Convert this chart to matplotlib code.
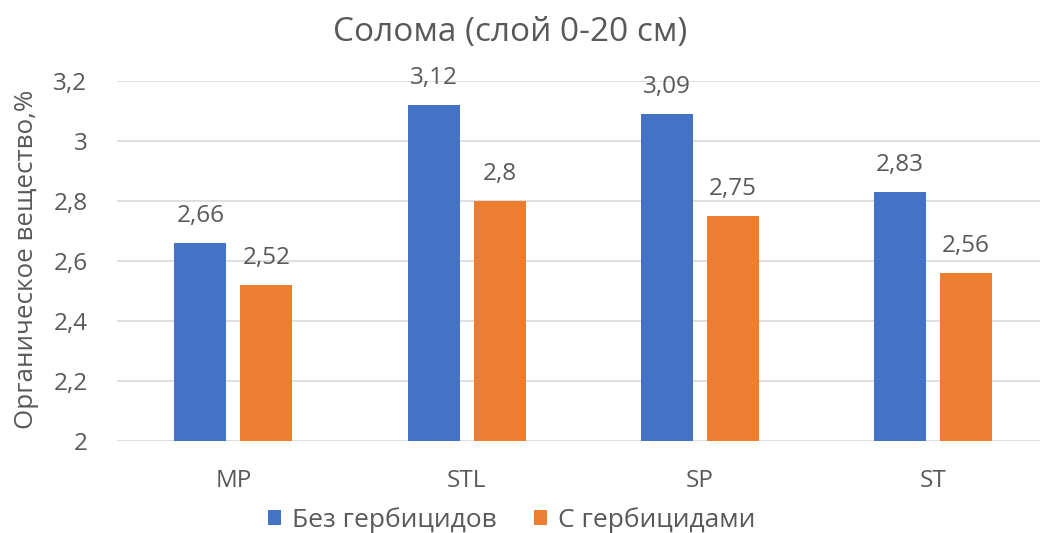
import matplotlib
matplotlib.use("Agg")
import matplotlib.pyplot as plt
import numpy as np

categories = ["MP", "STL", "SP", "ST"]
without_herbicides = [2.66, 3.12, 3.09, 2.83]
with_herbicides = [2.52, 2.80, 2.75, 2.56]
series_names = ["Без гербицидов", "С гербицидами"]
y_ticks = [2.0, 2.2, 2.4, 2.6, 2.8, 3.0, 3.2]

BLUE = "#4472C4"
ORANGE = "#ED7D31"
TEXT = "#595959"
GRID = "#D9D9D9"

plt.rcParams["font.family"] = ["Open Sans", "DejaVu Sans"]


def comma(v):
    return f"{v:g}".replace(".", ",")


fig = plt.figure(figsize=(10.4, 5.33), dpi=100)
ax = fig.add_axes([116.7 / 1040, 92 / 533, (1040 - 116.7) / 1040, 360 / 533])

x = np.arange(len(categories))
width = 0.223
offset = 0.1415
b1 = ax.bar(x - offset, without_herbicides, width, color=BLUE, label=series_names[0], zorder=3)
b2 = ax.bar(x + offset, with_herbicides, width, color=ORANGE, label=series_names[1], zorder=3)

for bars, vals in ((b1, without_herbicides), (b2, with_herbicides)):
    for rect, v in zip(bars, vals):
        ax.annotate(comma(v), (rect.get_x() + rect.get_width() / 2, v),
                    xytext=(0, 11), textcoords="offset points",
                    ha="center", va="bottom", fontsize=17.5, color=TEXT)

ax.set_ylim(2.0, 3.2)
ax.set_xlim(-0.5, 3 + (1040 - 933) / 233.3)
ax.set_yticks(y_ticks)
ax.set_yticklabels([comma(t) for t in y_ticks])
ax.set_xticks(x)
ax.set_xticklabels(categories)
ax.tick_params(axis="both", length=0, labelsize=17.5, colors=TEXT)
ax.tick_params(axis="x", pad=20)
ax.tick_params(axis="y", pad=21)
ax.yaxis.grid(True, color=GRID, linewidth=1.2, zorder=0)
ax.set_axisbelow(True)
for s in ax.spines.values():
    s.set_visible(False)

fig.text(27 / 1040, 1 - 259 / 533, "Органическое вещество,%", rotation=90,
         ha="center", va="center", fontsize=18.7, color=TEXT)
fig.text(510 / 1040, 1 - 32 / 533, "Солома (слой 0-20 см)", ha="center", va="center",
         fontsize=24, color=TEXT)

leg = fig.legend(handles=[b1, b2], loc="center", bbox_to_anchor=(512 / 1040, 1 - 520 / 533),
                 ncol=2, frameon=False, fontsize=19, handlelength=0.49, handleheight=0.49,
                 handletextpad=0.42, columnspacing=1.4, borderpad=0)
for t in leg.get_texts():
    t.set_color(TEXT)

fig.savefig("out.png", dpi=100)
